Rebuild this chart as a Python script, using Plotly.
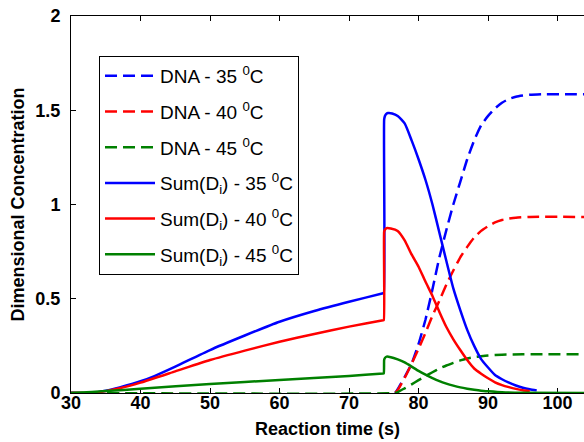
import plotly.graph_objects as go

# ---- data ----
dna35_x = [30, 76.6, 77, 78, 79, 80, 81, 82, 83, 84, 85, 86, 87, 88, 89, 90, 91, 92, 93, 94, 95, 96, 98, 105]
dna35_y = [0, 0, 0.02, 0.085, 0.155, 0.26, 0.39, 0.55, 0.72, 0.865, 1.0, 1.12, 1.24, 1.34, 1.42, 1.47, 1.51, 1.54, 1.56, 1.572, 1.578, 1.582, 1.585, 1.585]

dna40_x = [30, 76.6, 77, 78, 79, 80, 81, 82, 83, 84, 85, 86, 87, 88, 89, 90, 91, 92, 93, 94, 96, 105]
dna40_y = [0, 0, 0.015, 0.08, 0.155, 0.235, 0.32, 0.41, 0.49, 0.575, 0.65, 0.72, 0.775, 0.825, 0.86, 0.885, 0.905, 0.918, 0.925, 0.93, 0.934, 0.934]

dna45_x = [30, 76.5, 77, 78, 79, 80, 81, 82, 83, 84, 85, 86, 87, 88, 89, 90, 92, 95, 105]
dna45_y = [0, 0, 0.005, 0.025, 0.046, 0.068, 0.09, 0.11, 0.13, 0.146, 0.16, 0.173, 0.183, 0.19, 0.195, 0.199, 0.203, 0.205, 0.205]

sum35_x = [30, 33, 35, 37, 40, 42, 45, 50, 55, 60, 65, 70, 74.9, 75, 75.05, 75.15, 75.3, 75.6, 76.2, 77, 78, 79, 80, 81, 82, 83, 84, 85, 86, 87, 88, 89, 90, 91, 92, 93, 94, 95, 96, 97]
sum35_y = [0, 0, 0.012, 0.03, 0.062, 0.09, 0.14, 0.228, 0.305, 0.378, 0.435, 0.484, 0.529, 0.53, 1.45, 1.468, 1.478, 1.485, 1.483, 1.47, 1.43, 1.34, 1.24, 1.13, 1.0, 0.85, 0.70, 0.555, 0.44, 0.335, 0.25, 0.18, 0.135, 0.095, 0.073, 0.055, 0.04, 0.028, 0.02, 0.014]

sum40_x = [30, 33, 35, 37, 40, 45, 50, 55, 60, 65, 70, 74.9, 75, 75.05, 75.15, 75.4, 76, 77, 78, 79, 80, 81, 82, 83, 84, 85, 86, 87, 88, 89, 90, 91, 92, 93, 94, 95, 96]
sum40_y = [0, 0, 0.01, 0.025, 0.055, 0.115, 0.175, 0.225, 0.272, 0.313, 0.352, 0.386, 0.387, 0.855, 0.866, 0.875, 0.873, 0.86, 0.81, 0.735, 0.67, 0.59, 0.515, 0.43, 0.35, 0.285, 0.228, 0.175, 0.13, 0.102, 0.078, 0.057, 0.042, 0.031, 0.022, 0.015, 0.01]

sum45_x = [30, 33, 35, 40, 50, 60, 70, 74.9, 75, 75.05, 75.15, 75.4, 76, 77, 78, 79, 80, 81, 82, 83, 84, 85, 86, 87, 88, 89, 90, 92, 95, 105]
sum45_y = [0, 0.005, 0.01, 0.022, 0.048, 0.069, 0.09, 0.1035, 0.104, 0.175, 0.185, 0.193, 0.19, 0.178, 0.162, 0.14, 0.117, 0.097, 0.079, 0.063, 0.05, 0.039, 0.03, 0.023, 0.017, 0.012, 0.009, 0.004, 0.001, 0]

y_ticks = [0, 0.5, 1, 1.5, 2]
y_tick_labels = ["0", "0.5", "1", "1.5", "2"]
x_ticks = [30, 40, 50, 60, 70, 80, 90, 100]

BLUE, RED, GREEN = "rgb(0,0,255)", "rgb(255,0,0)", "rgb(0,128,0)"
DASH = "12px,6px"

series = [
    (dna35_x, dna35_y, "DNA - 35 <sup>0</sup>C", BLUE, DASH),
    (dna40_x, dna40_y, "DNA - 40 <sup>0</sup>C", RED, DASH),
    (dna45_x, dna45_y, "DNA - 45 <sup>0</sup>C", GREEN, DASH),
    (sum35_x, sum35_y, "Sum(D<sub>i</sub>) - 35 <sup>0</sup>C", BLUE, "solid"),
    (sum40_x, sum40_y, "Sum(D<sub>i</sub>) - 40 <sup>0</sup>C", RED, "solid"),
    (sum45_x, sum45_y, "Sum(D<sub>i</sub>) - 45 <sup>0</sup>C", GREEN, "solid"),
]

fig = go.Figure()
for i, (xs, ys, name, col, dash) in enumerate(series):
    fig.add_trace(go.Scatter(x=xs, y=ys, mode="lines", name=name, legendgroup=f"g{i}",
                             line=dict(color=col, width=2.5, dash=dash,
                                       shape="spline", smoothing=0.5)))

FONT = "Liberation Sans, Arial, sans-serif"
fig.update_layout(
    width=584, height=442,
    margin=dict(l=71, r=0, t=16, b=49),
    paper_bgcolor="white", plot_bgcolor="white",
    font=dict(family=FONT, color="black"),
    showlegend=True,
    legend=dict(x=0.0546, y=0.894, xanchor="left", yanchor="top",
                bgcolor="white", bordercolor="black", borderwidth=1,
                font=dict(family=FONT, size=19, color="black"),
                itemwidth=50, tracegroupgap=8),
)
fig.update_xaxes(
    range=[30, 103.8], tickvals=x_ticks, ticktext=[str(v) for v in x_ticks],
    ticks="inside", ticklen=5, tickcolor="black",
    showline=True, linecolor="black", linewidth=1, mirror="ticks",
    showgrid=False, zeroline=False, layer="below traces",
    tickfont=dict(family=FONT, size=18, color="black", weight="bold"),
    ticklabelstandoff=-7,
    title=dict(text="Reaction time (s)", font=dict(family=FONT, size=18, color="black", weight="bold"), standoff=10),
)
fig.update_yaxes(
    range=[0, 2], tickvals=y_ticks, ticktext=y_tick_labels,
    ticks="inside", ticklen=5, tickcolor="black",
    showline=True, linecolor="black", linewidth=1, mirror=False,
    showgrid=False, zeroline=False, layer="below traces",
    tickfont=dict(family=FONT, size=18, color="black", weight="bold"),
    ticklabelstandoff=6,
    title=dict(text="Dimensional Concentration", font=dict(family=FONT, size=18, color="black", weight="bold"), standoff=6),
)

fig.write_html("out.html")
